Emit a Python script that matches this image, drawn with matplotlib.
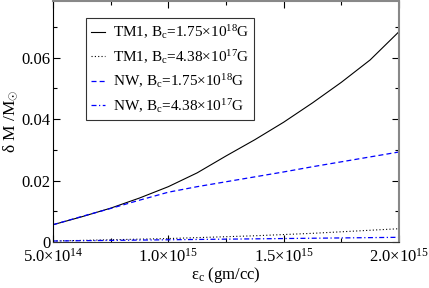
import matplotlib
matplotlib.use('Agg')
import matplotlib.pyplot as plt
from matplotlib.ticker import MultipleLocator
import numpy as np

plt.rcParams['font.family'] = 'Liberation Serif'
plt.rcParams['mathtext.fontset'] = 'custom'
plt.rcParams['mathtext.rm'] = 'Liberation Serif'
plt.rcParams['mathtext.it'] = 'Liberation Serif:italic'

# central energy density (gm/cc)
eps_c = [5.0e14, 6.25e14, 7.5e14, 8.75e14, 1.0e15, 1.125e15, 1.25e15,
         1.375e15, 1.5e15, 1.625e15, 1.75e15, 1.875e15, 2.0e15]
tm1_hi = [0.0056, 0.0082, 0.0110, 0.0143, 0.0180, 0.0225, 0.0280,
          0.0333, 0.0390, 0.0453, 0.0520, 0.0593, 0.0685]
tm1_lo = [0.0003, 0.0005, 0.0007, 0.0009, 0.0011, 0.0014, 0.0017,
          0.0020, 0.0024, 0.0028, 0.0033, 0.0038, 0.0043]
nw_hi = [0.0056, 0.0083, 0.0109, 0.0136, 0.0162, 0.0180, 0.0196,
         0.0212, 0.0228, 0.0245, 0.0261, 0.0277, 0.0293]
nw_lo = [0.0003, 0.0004, 0.0005, 0.0006, 0.0007, 0.0008, 0.0009,
         0.0010, 0.0011, 0.0012, 0.0013, 0.0014, 0.0015]

xticks = [5.0e14, 1.0e15, 1.5e15, 2.0e15]
xticklabels = ['5.0×10$^{14}$', '1.0×10$^{15}$', '1.5×10$^{15}$', '2.0×10$^{15}$']
yticks = [0, 0.02, 0.04, 0.06]
yticklabels = ['0', '0.02', '0.04', '0.06']

fig = plt.figure(figsize=(4.29, 2.88), dpi=100)
ax = fig.add_axes([0.1235, 0.16, 0.8065, 0.8365])

ax.plot(eps_c, tm1_hi, color='black', lw=0.8,
        label='TM1, B$_{\\rm c}$=1.75×10$^{18}$G')
ax.plot(eps_c, tm1_lo, color='black', lw=0.8, ls=(0, (1, 2)),
        label='TM1, B$_{\\rm c}$=4.38×10$^{17}$G')
ax.plot(eps_c, nw_hi, color='#0000ff', lw=0.9, ls=(0, (4, 2.5)),
        label='NW, B$_{\\rm c}$=1.75×10$^{18}$G')
ax.plot(eps_c, nw_lo, color='#0000ff', lw=0.9, ls=(0, (4, 2, 1, 2)),
        label='NW, B$_{\\rm c}$=4.38×10$^{17}$G')

ax.set_xlim(5.0e14, 2.0e15)
ax.set_ylim(0, 0.0785)
ax.set_xticks(xticks)
ax.set_xticklabels(xticklabels, fontsize=12)
ax.set_yticks(yticks)
ax.set_yticklabels(yticklabels, fontsize=12)
ax.xaxis.set_minor_locator(MultipleLocator(2.5e14))
ax.yaxis.set_minor_locator(MultipleLocator(0.01))
ax.tick_params(which='both', direction='in', top=True, right=True)
ax.tick_params(which='major', length=5, width=0.8)
ax.tick_params(axis='x', which='major', pad=4.5)
ax.tick_params(axis='y', which='major', pad=2)
ax.tick_params(which='minor', length=3, width=0.8)

ax.spines['left'].set_color('black')
ax.spines['bottom'].set_color('#333333')
ax.spines['top'].set_color('#888888')
ax.spines['right'].set_color('#888888')
ax.spines['top'].set_linewidth(1.5)
ax.spines['right'].set_linewidth(1.5)

ax.set_xlabel('ε$_{\\rm c}$ (gm/cc)', fontsize=12, labelpad=-1)
ax.set_ylabel('δ M /M$_{\\odot}$', fontsize=12.5, labelpad=1)

leg = ax.legend(loc='upper left', bbox_to_anchor=(0.095, 0.929), fontsize=11,
                frameon=True, fancybox=False, edgecolor='black',
                handlelength=0.9, handletextpad=0.5, borderpad=0.35,
                borderaxespad=0, labelspacing=0.42)
leg.get_frame().set_linewidth(0.8)

fig.savefig('out.png', dpi=100)
